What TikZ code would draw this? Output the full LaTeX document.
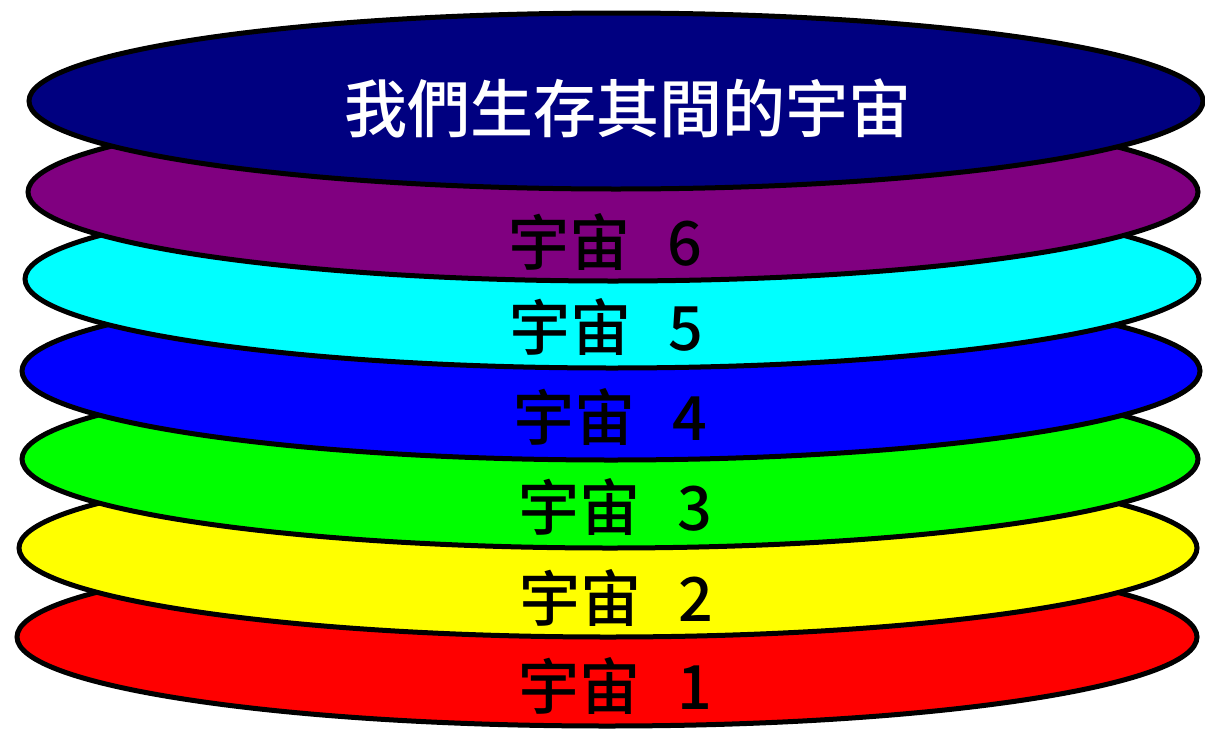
\documentclass[tikz,border=0pt]{standalone}
\usepackage{fontspec}
\newfontfamily\cjk{Noto Sans CJK TC}[BoldFont={Noto Sans CJK TC Medium}]
\definecolor{discnavy}{RGB}{0,0,128}
\definecolor{discpurple}{RGB}{128,0,128}
\definecolor{disccyan}{RGB}{0,255,255}
\definecolor{discblue}{RGB}{0,0,255}
\definecolor{discgreen}{RGB}{0,255,0}
\definecolor{discyellow}{RGB}{255,255,0}
\definecolor{discred}{RGB}{255,0,0}
\tikzset{disc/.style={draw=black,line width=5pt},
  disclabel/.style={anchor=west,inner sep=0pt,font=\cjk\bfseries\fontsize{61}{61}\selectfont}}
\begin{document}
\begin{tikzpicture}[x=1pt,y=-1pt]
\useasboundingbox[fill=white] (0,0) rectangle (1205,731);
% the universes, bottom one first
\foreach \cx/\cy/\rx/\col/\lx/\ly/\n in {607/637/590/discred/518/686/1,
  608/548/589/discyellow/519/598/2, 610/459/588/discgreen/518/507/3,
  611/371/589/discblue/513/417/4, 612/279/587/disccyan/509/327/5,
  613/192/585/discpurple/508/242/6}{
  \draw[disc,fill=\col] (\cx,\cy) ellipse [x radius=\rx pt, y radius=89pt];
  \node[disclabel] (u\n) at (\lx,\ly) {宇宙\hspace{0.62em}\n};
}
\draw[disc,fill=discnavy] (616,101) ellipse [x radius=587pt, y radius=88pt];
\node[white,inner sep=0pt,font=\cjk\bfseries\fontsize{63}{63}\selectfont] (top) at (628,108) {我們生存其間的宇宙};
\end{tikzpicture}
\end{document}
